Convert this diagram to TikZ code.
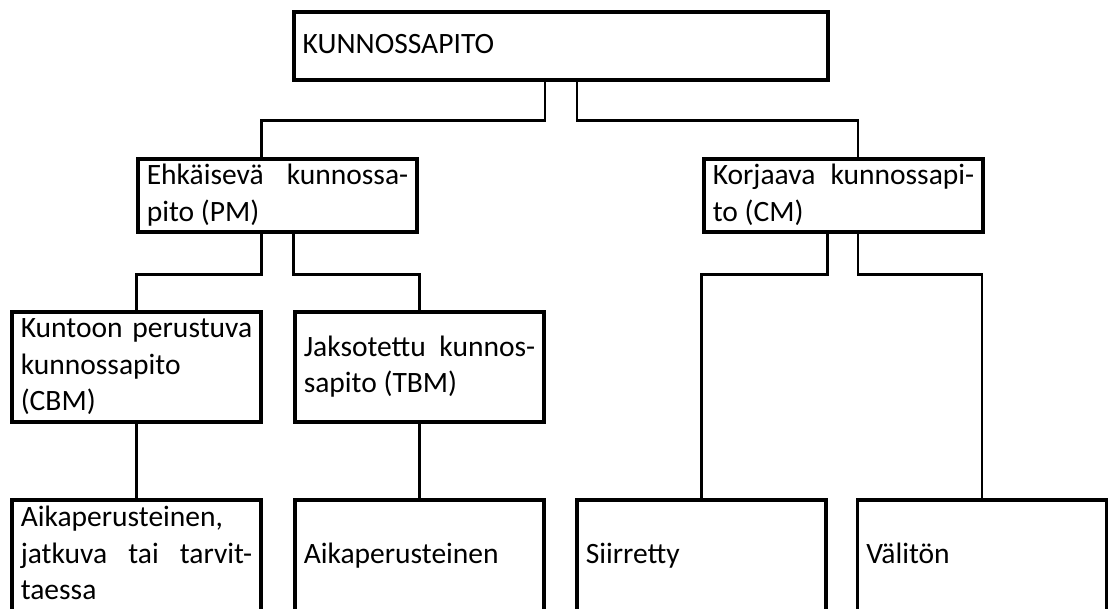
\documentclass[tikz,border=0pt]{standalone}
\usepackage{fontspec}
\setmainfont{Carlito}
\begin{document}
\begin{tikzpicture}[x=0.025cm,y=-0.025cm,
  box/.style={draw,line width=2.6pt,inner xsep=0.22cm,inner ysep=0pt,align=flush left,font=\fontsize{21pt}{26pt}\selectfont,
    execute at begin node=\strut,execute at end node=\strut},
  wide/.style={box,text width=6.535cm,minimum height=1.775cm},
  mid/.style={box,text width=5.785cm,minimum height=2.75cm},
  low/.style={box,text width=5.785cm,minimum height=2.8cm},
  link/.style={line width=2pt}]
\useasboundingbox (0,0) rectangle (1108,608);
\node[box,text width=12.91cm,minimum height=1.7cm](kp) at (561,46){KUNNOSSAPITO};
\node[wide](pm) at (277.5,195.5){Ehkäisevä\hfill kunnossa-\\pito (PM)};
\node[wide](cm) at (843.5,195.5){Korjaava\hfill kunnossapi-\\to (CM)};
\node[mid](cbm) at (136.5,367){Kuntoon\hfill perustuva\\kunnossapito\\(CBM)};
\node[mid](tbm) at (419.5,367){Jaksotettu\hfill kunnos-\\sapito (TBM)};
\node[low](aika1) at (136.5,556){Aikaperusteinen,\\jatkuva\hfill tai\hfill tarvit-\\taessa};
\node[low](aika2) at (419.5,556){Aikaperusteinen};
\node[low](siir) at (701.5,556){Siirretty};
\node[low](valit) at (982,556){Välitön};
\draw[link] ([xshift=-0.4cm]kp.south) -- ++(0,39) -| ([xshift=-0.39cm]pm.north);
\draw[link] ([xshift=0.4cm]kp.south) -- ++(0,39) -| ([xshift=0.36cm]cm.north);
\draw[link] ([xshift=-0.39cm]pm.south) -- ++(0,41) -| (cbm.north);
\draw[link] ([xshift=0.39cm]pm.south) -- ++(0,41) -| (tbm.north);
\draw[link] ([xshift=-0.41cm]cm.south) -- ++(0,41) -| (siir.north);
\draw[link] ([xshift=0.36cm]cm.south) -- ++(0,41) -| (valit.north);
\draw[link] (cbm.south) -- (aika1.north);
\draw[link] (tbm.south) -- (aika2.north);
\end{tikzpicture}
\end{document}
